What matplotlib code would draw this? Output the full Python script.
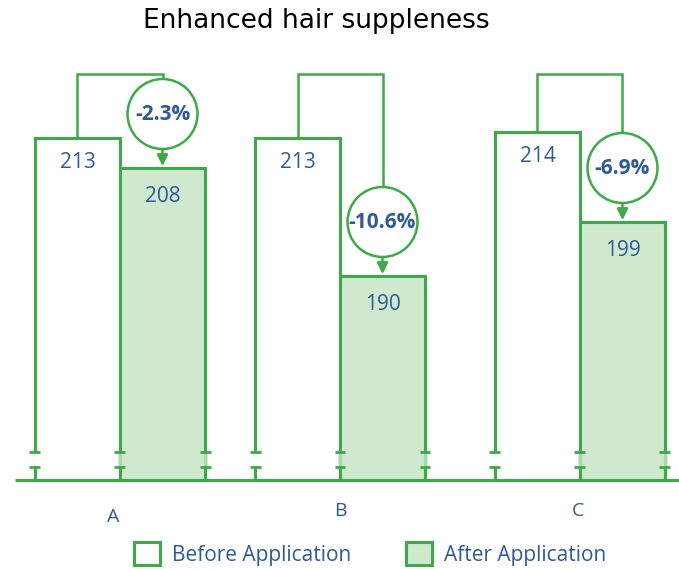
import matplotlib
matplotlib.use("Agg")
import matplotlib.pyplot as plt
from matplotlib.patches import Patch, Ellipse

categories = ["A", "B", "C"]
before = [213, 213, 214]
after = [208, 190, 199]
changes = ["-2.3%", "-10.6%", "-6.9%"]
title = "Enhanced hair suppleness"
legend_labels = ["Before Application", "After Application"]

# layout (group centers, in group-spacing units)
xs = [0.0, 1.0, 2.0909]
label_dx = [-0.03, 0.0, -0.01]
label_dy = [37, 31, 31]

GREEN = "#3DAA48"
FILL = "#CFE9CF"
BLUE = "#2F5A9A"
FONT = ["Open Sans", "DejaVu Sans"]

W, H = 679, 569
fig = plt.figure(figsize=(W / 100, H / 100), dpi=100)
ax = fig.add_axes([0, 0, 1, 1])

px_x = 1 / 220.0
px_y = 1 / 6.0
base = 156.0
ax.set_xlim((0 - 120) * px_x, (W - 120) * px_x)
ax.set_ylim(base - (H - 480) * px_y, base + 480 * px_y)
ax.axis("off")

w = 85 * px_x
bx = [x - w / 2 for x in xs]
axp = [x + w / 2 for x in xs]

ax.bar(bx, [b - base for b in before], width=w, bottom=base, facecolor="white",
       edgecolor=GREEN, linewidth=2.2, zorder=2)
ax.bar(axp, [a - base for a in after], width=w, bottom=base, facecolor=FILL,
       edgecolor=GREEN, linewidth=2.2, zorder=3)

# baseline
ax.plot([(15 - 120) * px_x, (685 - 120) * px_x], [base, base], color=GREEN, lw=2.2, zorder=5,
        solid_capstyle="butt")

# axis break marks
b_lo = base + 13 * px_y
b_hi = base + 28 * px_y
tick = 5.5 * px_x
for i in range(len(xs)):
    edges = [(bx[i] - w / 2, "white"), (xs[i], FILL), (axp[i] + w / 2, FILL)]
    for ex, col in edges:
        ax.plot([ex, ex], [b_lo + 0.15, b_hi - 0.15], color=col, lw=3.5, zorder=6,
                solid_capstyle="butt")
        if col == FILL:
            ax.plot([ex, ex], [b_lo + 0.15, b_hi - 0.15], color=GREEN, lw=2.2, alpha=0.25,
                    zorder=6.5, solid_capstyle="butt")
        for yy in (b_lo, b_hi):
            ax.plot([ex - tick, ex + tick], [yy, yy], color=GREEN, lw=2.0, zorder=7,
                    solid_capstyle="butt")

# value labels
for i in range(len(xs)):
    ax.text(bx[i], before[i] - 24 * px_y, str(before[i]), ha="center", va="center",
            color=BLUE, fontsize=15, family=FONT, zorder=8)
    ax.text(axp[i], after[i] - 29 * px_y, str(after[i]), ha="center", va="center",
            color=BLUE, fontsize=15, family=FONT, zorder=8)

# brackets, circles, arrows
top_val = base + (480 - 74) * px_y
r = 35
for i in range(len(xs)):
    cy = after[i] + 54 * px_y
    ctop = cy + r * px_y
    cbot = cy - r * px_y
    ax.plot([bx[i], bx[i], axp[i], axp[i]], [before[i], top_val, top_val, ctop],
            color=GREEN, lw=1.8, zorder=4, solid_joinstyle="miter")
    ax.add_patch(Ellipse((axp[i], cy), 2 * r * px_x, 2 * r * px_y, facecolor="white",
                         edgecolor=GREEN, lw=1.8, zorder=6))
    ax.annotate("", xy=(axp[i], after[i] + 0.3), xytext=(axp[i], cbot),
                arrowprops=dict(arrowstyle="-|>,head_length=0.65,head_width=0.32",
                                color=GREEN, lw=1.8, shrinkA=0, shrinkB=0), zorder=6)
    ax.text(axp[i], cy, changes[i], ha="center", va="center", color=BLUE,
            fontsize=15, fontweight="bold", family=FONT, zorder=8)

# category labels
for i, c in enumerate(categories):
    ax.text(xs[i] + label_dx[i], base - label_dy[i] * px_y, c, ha="center", va="center",
            color=BLUE, fontsize=14, family=FONT)

fig.text(316 / W, 1 - 21 / H, title, ha="center", va="center", fontsize=19,
         family=["DejaVu Sans"], color="black")

handles = [Patch(facecolor="white", edgecolor=GREEN, lw=2.2),
           Patch(facecolor=FILL, edgecolor=GREEN, lw=2.2)]
leg = fig.legend(handles, legend_labels, loc="center", bbox_to_anchor=(370 / W, 1 - 554 / H),
                 ncol=2, frameon=False, handlelength=1.25, handleheight=1.25,
                 columnspacing=2.6, handletextpad=0.6, prop={"family": FONT, "size": 15})
for t in leg.get_texts():
    t.set_color(BLUE)

fig.savefig("out.png", dpi=100)
